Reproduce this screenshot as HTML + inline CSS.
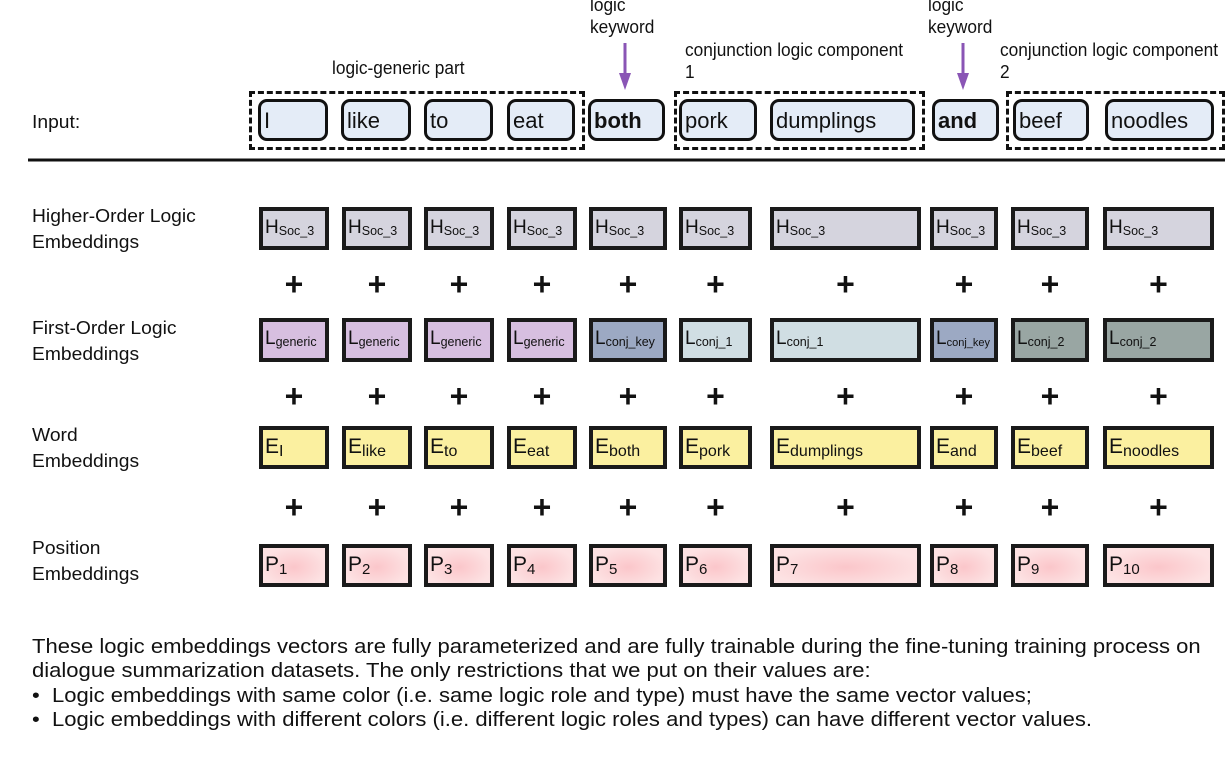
<!DOCTYPE html>
<html><head><meta charset="utf-8"><style>
body{margin:0;width:1225px;height:763px;background:#fff;position:relative;overflow:hidden;font-family:"Liberation Sans",Arial,sans-serif;color:#111}
.a{position:absolute}
.lab{position:absolute;font-size:18px;line-height:22px;white-space:nowrap;transform-origin:0 0;transform:scaleX(0.96)}
.lab2{position:absolute;font-size:18px;line-height:26px;white-space:nowrap;transform-origin:0 0;transform:scaleX(1.07)}
.tok{position:absolute;box-sizing:border-box;border:3px solid #111;border-radius:9px;background:#e4ecf7;font-size:22px;line-height:38px;padding-left:3px;white-space:nowrap}
.dash{position:absolute;box-sizing:border-box;border:3px dashed #111}
.b{position:absolute;box-sizing:border-box;border:4px solid #1a1a1a;white-space:nowrap;padding-left:2px;font-size:19px;line-height:34px}
.b sub{font-size:12.5px;vertical-align:-2px}
.H{background:#d5d4de}
.Lg{background:#d7bfe0}.Lk{background:#9ca9c3}.L1{background:#d0dee3}.L2{background:#99a6a3}
.E{background:#fbf0a0}
.P{background:radial-gradient(ellipse at 50% 55%,#fbc6ca 0%,#fde2e3 75%)}
.plus{position:absolute;font-size:32px;font-weight:bold;line-height:32px;width:40px;text-align:center}
.t{position:absolute;left:32px;font-size:20.5px;white-space:nowrap;transform-origin:0 0;transform:scaleX(1.075)}
</style></head><body>
<div class="lab" style="left:332px;top:57px">logic-generic part</div>
<div class="lab" style="left:590px;top:-6px">logic<br>keyword</div>
<div class="lab" style="left:928px;top:-6px">logic<br>keyword</div>
<div class="lab" style="left:685px;top:39px">conjunction logic component<br>1</div>
<div class="lab" style="left:1000px;top:39px">conjunction logic component<br>2</div>
<svg class="a" style="left:0;top:0" width="1225" height="170">
<line x1="625" y1="43" x2="625" y2="75" stroke="#8a55b5" stroke-width="3"/>
<polygon points="619,73 631,73 625,90" fill="#8a55b5"/>
<line x1="963" y1="43" x2="963" y2="75" stroke="#8a55b5" stroke-width="3"/>
<polygon points="957,73 969,73 963,90" fill="#8a55b5"/>
<line x1="28" y1="160" x2="1225" y2="160" stroke="#111" stroke-width="3"/>
</svg>
<div class="lab2" style="left:32px;top:109px">Input:</div>
<div class="dash" style="left:249px;top:91px;width:336px;height:59px"></div>
<div class="dash" style="left:674px;top:91px;width:251px;height:59px"></div>
<div class="dash" style="left:1006px;top:91px;width:219px;height:59px"></div>
<div class="tok" style="left:258px;top:99px;width:70px;height:42px">I</div>
<div class="tok" style="left:341px;top:99px;width:70px;height:42px">like</div>
<div class="tok" style="left:424px;top:99px;width:69px;height:42px">to</div>
<div class="tok" style="left:507px;top:99px;width:68px;height:42px">eat</div>
<div class="tok" style="left:588px;top:99px;width:77px;height:42px;font-weight:bold">both</div>
<div class="tok" style="left:679px;top:99px;width:78px;height:42px">pork</div>
<div class="tok" style="left:770px;top:99px;width:145px;height:42px">dumplings</div>
<div class="tok" style="left:932px;top:99px;width:67px;height:42px;font-weight:bold">and</div>
<div class="tok" style="left:1013px;top:99px;width:76px;height:42px">beef</div>
<div class="tok" style="left:1105px;top:99px;width:109px;height:42px">noodles</div>

<div class="lab2" style="left:32px;top:203px">Higher-Order Logic<br>Embeddings</div>
<div class="lab2" style="left:32px;top:315px">First-Order Logic<br>Embeddings</div>
<div class="lab2" style="left:32px;top:422px">Word<br>Embeddings</div>
<div class="lab2" style="left:32px;top:535px">Position<br>Embeddings</div>

<div id="grid"></div>
<script>
var cols=[[259,70],[342,70],[424,70],[507,70],[589,78],[679,73],[770,151],[930,68],[1011,78],[1103,111]];
var L=[["Lg","generic"],["Lg","generic"],["Lg","generic"],["Lg","generic"],["Lk","conj_key"],["L1","conj_1"],["L1","conj_1"],["Lk","conj_key"],["L2","conj_2"],["L2","conj_2"]];
var E=["I","like","to","eat","both","pork","dumplings","and","beef","noodles"];
var h="";
cols.forEach(function(c,i){
 var x=c[0],w=c[1];
 h+='<div class="b H" style="left:'+x+'px;top:207px;width:'+w+'px;height:43px">H<sub>Soc_3</sub></div>';
 h+='<div class="b '+L[i][0]+'" style="left:'+x+'px;top:318px;width:'+w+'px;height:44px">L<sub style="font-size:'+(L[i][1]=="conj_key"&&w<75?11:12.5)+'px">'+L[i][1]+'</sub></div>';
 h+='<div class="b E" style="left:'+x+'px;top:426px;width:'+w+'px;height:43px;font-size:21px">E<sub style="font-size:16px;vertical-align:-3px">'+E[i]+'</sub></div>';
 h+='<div class="b P" style="left:'+x+'px;top:544px;width:'+w+'px;height:43px;font-size:21px">P<sub style="font-size:15px;vertical-align:-3px">'+(i+1)+'</sub></div>';
 var cx=x+w/2-20;
 [268,380,491].forEach(function(y){h+='<div class="plus" style="left:'+cx+'px;top:'+y+'px">+</div>';});
});
document.getElementById("grid").innerHTML=h;
</script>

<div class="t" style="top:635px">These logic embeddings vectors are fully parameterized and are fully trainable during the fine-tuning training process on</div>
<div class="t" style="top:659px">dialogue summarization datasets. The only restrictions that we put on their values are:</div>
<div class="t" style="top:684px">• &nbsp;Logic embeddings with same color (i.e. same logic role and type) must have the same vector values;</div>
<div class="t" style="top:708px">• &nbsp;Logic embeddings with different colors (i.e. different logic roles and types) can have different vector values.</div>
</body></html>
